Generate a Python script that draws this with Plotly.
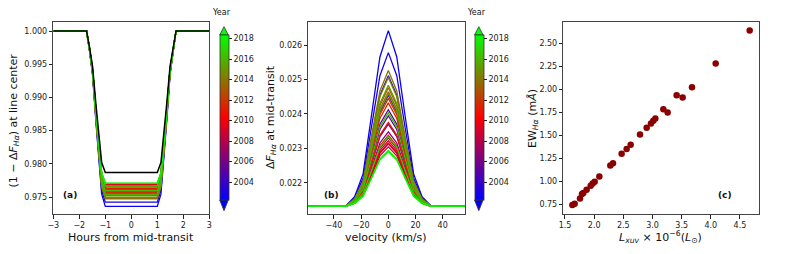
import numpy as np
import plotly.graph_objects as go

# ---------------- data ----------------
years = [2002.5, 2003.1, 2003.7, 2004.3, 2004.9, 2005.5, 2006.1, 2006.7, 2007.3,
         2007.9, 2008.5, 2009.1, 2009.7, 2010.3, 2010.9, 2011.5, 2012.1, 2012.7,
         2013.3, 2013.9, 2014.5, 2015.1, 2015.7, 2016.3, 2016.9, 2017.5, 2018.1]
l_xuv = [4.666, 4.083, 3.414, 2.974, 2.626, 2.471, 2.277, 2.089, 1.940,
         1.814, 1.757, 1.791, 1.871, 2.009, 2.323, 2.786, 2.900, 3.049,
         3.260, 3.677, 3.517, 3.186, 3.014, 2.557, 1.974, 1.666, 1.626]
ew_ha = [2.637, 2.281, 1.936, 1.630, 1.400, 1.303, 1.174, 1.056, 0.955,
         0.876, 0.818, 0.865, 0.912, 0.998, 1.199, 1.512, 1.584, 1.684,
         1.749, 2.022, 1.911, 1.785, 1.659, 1.354, 0.980, 0.761, 0.747]
peak_dF = [0.02642, 0.02578, 0.02511, 0.02454, 0.02412, 0.02394, 0.02370, 0.02348, 0.02330,
           0.02315, 0.02304, 0.02313, 0.02322, 0.02338, 0.02375, 0.02432, 0.02445, 0.02464,
           0.02476, 0.02526, 0.02506, 0.02483, 0.02459, 0.02403, 0.02334, 0.02294, 0.02290]
continuum_depth = 0.02131

hours = [-3.0, -1.72, -1.61, -1.49, -1.36, -1.24, -1.14, -1.0, 0.0,
         1.0, 1.14, 1.24, 1.36, 1.49, 1.61, 1.72, 3.0]
transit_shape = [0, 0, 0.11, 0.25, 0.52, 0.76, 0.93, 1, 1,
                 1, 0.93, 0.76, 0.52, 0.25, 0.11, 0, 0]

velocity = [-62.0, -55.8, -49.6, -43.4, -37.2, -31.0, -24.8, -18.6, -12.4, -6.2, 0.0,
            6.2, 12.4, 18.6, 24.8, 31.0, 37.2, 43.4, 49.6, 55.8, 62.0]
line_shape = [0, 0, 0, 0, 0, 0.006, 0.055, 0.185, 0.51, 0.85, 1,
              0.85, 0.51, 0.185, 0.055, 0.006, 0, 0, 0, 0, 0]

year_min, year_max = 2002.25, 2018.35
year_ticks = [2004, 2006, 2008, 2010, 2012, 2014, 2016, 2018]

# ---------------- helpers ----------------
W, H = 789, 254
FONT = "DejaVu Sans"


def px(x):
    return x / W


def py(y):
    return 1 - y / H


def brg(t):
    t = min(max(t, 0.0), 1.0)
    if t < 0.5:
        r, g, b = 2 * t, 0.0, 1 - 2 * t
    else:
        r, g, b = 2 - 2 * t, 2 * t - 1, 0.0
    return f"rgb({int(round(r*255))},{int(round(g*255))},{int(round(b*255))})"


brg_scale = [[0, "rgb(0,0,255)"], [0.5, "rgb(255,0,0)"], [1, "rgb(0,255,0)"]]

fig = go.Figure()

h = np.array(hours)
ts = np.array(transit_shape)
v = np.array(velocity)
ls = np.array(line_shape)

# panel (a)
for yr, pk in zip(years, peak_dF):
    c = brg((yr - year_min) / (year_max - year_min))
    fig.add_trace(go.Scatter(x=h, y=1 - pk * ts, mode="lines",
                             line=dict(color=c, width=1.3),
                             xaxis="x", yaxis="y", showlegend=False, hoverinfo="skip"))
fig.add_trace(go.Scatter(x=h, y=1 - continuum_depth * ts, mode="lines",
                         line=dict(color="black", width=1.5),
                         xaxis="x", yaxis="y", showlegend=False, hoverinfo="skip"))

# panel (b)
for yr, pk in zip(years, peak_dF):
    c = brg((yr - year_min) / (year_max - year_min))
    fig.add_trace(go.Scatter(x=v, y=continuum_depth + (pk - continuum_depth) * ls, mode="lines",
                             line=dict(color=c, width=1.3),
                             xaxis="x2", yaxis="y2", showlegend=False, hoverinfo="skip"))

# panel (c)
fig.add_trace(go.Scatter(x=l_xuv, y=ew_ha, mode="markers",
                         marker=dict(color="#8b0000", size=6.5, line=dict(width=0)),
                         xaxis="x3", yaxis="y3", showlegend=False))

# colorbars (dummy traces)
bar_top, bar_bot = 35.0, 200.0
for xa, ya, bx in (("x", "y", 219.7), ("x2", "y2", 474.5)):
    fig.add_trace(go.Scatter(
        x=[None, None], y=[None, None], mode="markers", xaxis=xa, yaxis=ya,
        showlegend=False, hoverinfo="skip",
        marker=dict(color=[year_min, year_max], cmin=year_min, cmax=year_max,
                    colorscale=brg_scale, showscale=True,
                    colorbar=dict(x=px(bx), xanchor="left", xpad=0, ypad=0,
                                  y=py((bar_top + bar_bot) / 2), yanchor="middle",
                                  lenmode="pixels", len=bar_bot - bar_top,
                                  thickness=8.6, outlinewidth=0.8, outlinecolor="#333",
                                  tickmode="array", tickvals=year_ticks,
                                  ticks="outside", ticklen=3, tickwidth=0.8, tickcolor="#222",
                                  tickfont=dict(family=FONT, size=8, color="#222"))),
    ))

shapes = []
for bx in (219.7, 474.5):
    x0, x1, xm = bx, bx + 8.6, bx + 4.3
    shapes.append(dict(type="path", xref="paper", yref="paper",
                       path=f"M {px(x0)},{py(bar_top)} L {px(xm)},{py(26.7)} L {px(x1)},{py(bar_top)} Z",
                       fillcolor="rgb(0,255,0)", line=dict(color="#333", width=0.8)))
    shapes.append(dict(type="path", xref="paper", yref="paper",
                       path=f"M {px(x0)},{py(bar_bot)} L {px(xm)},{py(210.7)} L {px(x1)},{py(bar_bot)} Z",
                       fillcolor="rgb(0,0,255)", line=dict(color="#333", width=0.8)))

axis_common = dict(showgrid=False, zeroline=False, showline=True, mirror=True,
                   linecolor="#444", linewidth=1, ticks="outside", ticklen=3.5,
                   tickwidth=0.8, tickcolor="#222",
                   tickfont=dict(family=FONT, size=8, color="#222"))

ydom = [py(214), py(22)]
fig.update_layout(
    width=W, height=H, template="none",
    margin=dict(l=0, r=0, t=0, b=0),
    paper_bgcolor="white", plot_bgcolor="white",
    xaxis=dict(domain=[px(53.3), px(209.3)], range=[-3, 3], tickmode="linear",
               tick0=-3, dtick=1, anchor="y", **axis_common),
    yaxis=dict(domain=ydom, range=[0.97244, 1.00136], tickmode="linear",
               tick0=0.975, dtick=0.005, tickformat=".3f", anchor="x", **axis_common),
    xaxis2=dict(domain=[px(308.3), px(465)], range=[-58.9, 56.4], tickmode="linear",
                tick0=-40, dtick=20, anchor="y2", **axis_common),
    yaxis2=dict(domain=ydom, range=[0.02109, 0.02667], tickmode="linear",
                tick0=0.022, dtick=0.001, tickformat=".3f", anchor="x2", **axis_common),
    xaxis3=dict(domain=[px(563.3), px(759)], range=[1.471, 4.826], tickmode="linear",
                tick0=1.5, dtick=0.5, tickformat=".1f", anchor="y3", **axis_common),
    yaxis3=dict(domain=ydom, range=[0.649, 2.73], tickmode="linear",
                tick0=0.75, dtick=0.25, tickformat=".2f", anchor="x3", **axis_common),
    shapes=shapes,
)

ann = []


def add_text(text, x, y, size=11, angle=0, bold=False):
    ann.append(dict(text=f"<b>{text}</b>" if bold else text, x=px(x), y=py(y),
                    xref="paper", yref="paper", showarrow=False, textangle=angle,
                    xanchor="center", yanchor="middle",
                    font=dict(family=FONT, size=size, color="#111")))


add_text("Hours from mid-transit", 131, 237)
add_text("velocity (km/s)", 386, 237)
add_text("<i>L<sub>xuv</sub></i> × 10<sup>−6</sup>(<i>L</i><sub>⊙</sub>)", 660, 237)
add_text("(1 − Δ<i>F</i><sub><i>Hα</i></sub>) at line center", 13.5, 121, angle=-90)
add_text("Δ<i>F</i><sub><i>Hα</i></sub> at mid-transit", 271, 117, angle=-90)
add_text("EW<sub><i>Hα</i></sub> (m<i>Å</i>)", 533, 119, angle=-90)
add_text("Year", 221.5, 12, size=8)
add_text("Year", 476.5, 12, size=8)
add_text("(a)", 70, 194.5, size=9, bold=True)
add_text("(b)", 331, 195, size=9, bold=True)
add_text("(c)", 725, 194.5, size=9, bold=True)

fig.update_layout(annotations=ann)
fig.write_html("out.html", config={"displayModeBar": False},
               post_script="document.body.style.margin='0';document.body.style.overflow='hidden';")
